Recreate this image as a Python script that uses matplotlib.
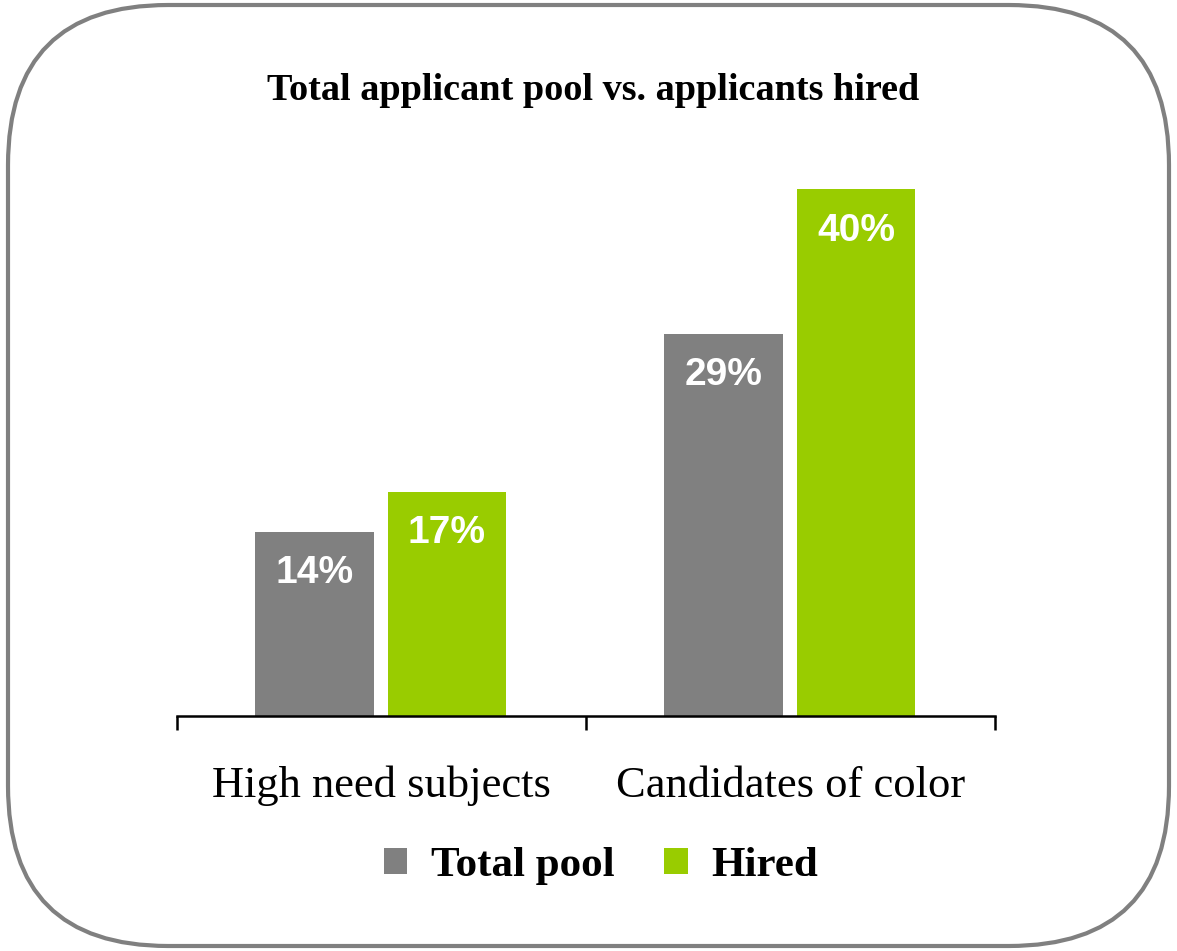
import matplotlib
matplotlib.use("Agg")
import matplotlib.pyplot as plt
from matplotlib.patches import FancyBboxPatch
import numpy as np

categories = ["High need subjects", "Candidates of color"]
series_names = ["Total pool", "Hired"]
total_pool = [14, 29]
hired = [17, 40]
value_labels_total = ["14%", "29%"]
value_labels_hired = ["17%", "40%"]
title = "Total applicant pool vs. applicants hired"

GRAY = "#808080"
GREEN = "#99CC00"
SERIF = "Liberation Serif"
SANS = "Liberation Sans"

W, H = 1177, 951
fig = plt.figure(figsize=(W / 100, H / 100), dpi=100)

# Background frame (pixel coordinates)
bg = fig.add_axes([0, 0, 1, 1])
bg.set_xlim(0, W)
bg.set_ylim(H, 0)
bg.axis("off")
frame = FancyBboxPatch((8, 5), W - 16, H - 10,
                       boxstyle="round,pad=0,rounding_size=160",
                       fc="white", ec=GRAY, lw=3.0)
bg.add_patch(frame)

# Main axes
left = 177 / W
width = (995 - 177) / W
bottom = (H - 716) / H
top_px = 150
height = (716 - top_px) / H
ax = fig.add_axes([left, bottom, width, height])
ax.patch.set_alpha(0)
px_per_unit = 13.17
ax.set_ylim(0, (716 - top_px) / px_per_unit)
ax.set_xlim(-0.5, len(categories) - 0.5)

x = np.arange(len(categories))
bw = 0.29
b1 = ax.bar(x - 0.164, total_pool, width=bw, color=GRAY, label=series_names[0])
b2 = ax.bar(x + 0.160, hired, width=bw, color=GREEN, label=series_names[1])

for bars, labs in ((b1, value_labels_total), (b2, value_labels_hired)):
    for rect, lab in zip(bars, labs):
        ax.annotate(lab, (rect.get_x() + rect.get_width() / 2, rect.get_height()),
                    xytext=(0, -37), textcoords="offset points",
                    ha="center", va="baseline", color="white",
                    fontsize=28, fontweight="bold", family=SANS)

for s in ("top", "right", "left"):
    ax.spines[s].set_visible(False)
ax.spines["bottom"].set_linewidth(1.8)
ax.spines["bottom"].set_color("black")
ax.set_yticks([])
ax.set_xticks(np.arange(len(categories) + 1) - 0.5)
ax.set_xticklabels([])
ax.tick_params(axis="x", which="major", direction="out", length=10, width=1.8, color="black")
ax.set_xticks(x, minor=True)
ax.set_xticklabels(categories, minor=True, fontsize=32, family=SERIF)
ax.tick_params(axis="x", which="minor", length=0, pad=36)

fig.text(593 / W, 1 - 90 / H, title, ha="center", va="center",
         fontsize=27.5, fontweight="bold", family=SERIF)

leg = fig.legend(handles=[b1, b2], labels=series_names, loc="center",
                 bbox_to_anchor=(601 / W, 1 - 866 / H), ncol=2, frameon=False,
                 prop={"family": SERIF, "weight": "bold", "size": 31},
                 handlelength=0.55, handleheight=0.55, handletextpad=0.55,
                 columnspacing=1.15)

fig.savefig("out.png", dpi=100)
